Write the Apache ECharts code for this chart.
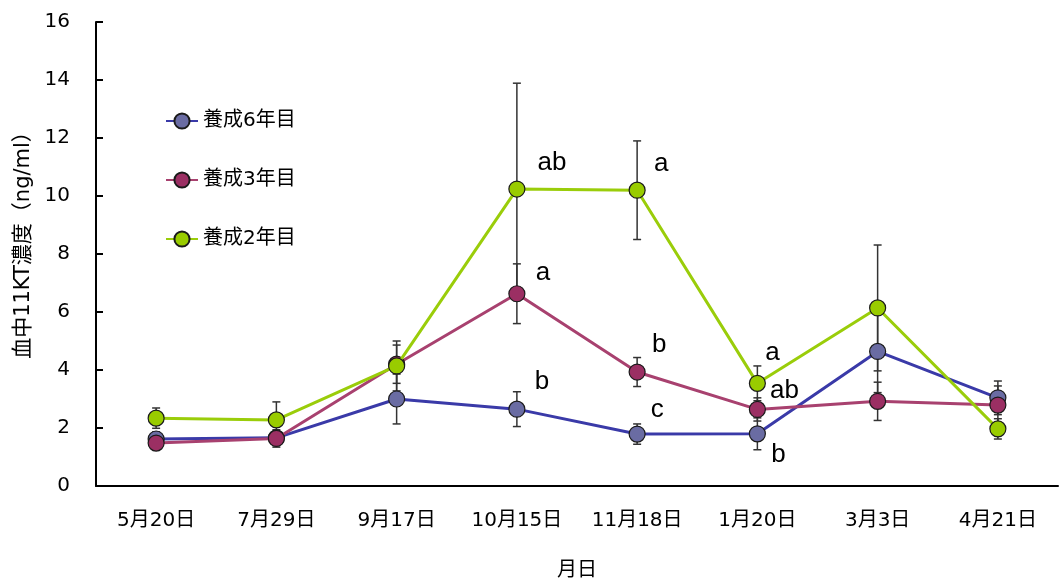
<!DOCTYPE html>
<html>
<head>
<meta charset="utf-8">
<script src="https://cdn.jsdelivr.net/npm/echarts@6/dist/echarts.min.js"></script>
<style>
  html, body { margin: 0; padding: 0; background: #fff; }
  #chart { width: 1061px; height: 584px; }
</style>
</head>
<body>
<div id="chart"></div>
<script>
// Sampling dates
const categories = ['5月20日', '7月29日', '9月17日', '10月15日', '11月18日', '1月20日', '3月3日', '4月21日'];

// Mean blood 11-KT concentration (ng/ml) and error (±) per group
const names = ['養成6年目', '養成3年目', '養成2年目'];
const year6 = [1.62, 1.66, 3.0, 2.65, 1.79, 1.80, 4.64, 3.04];
const year6Err = [0.25, 0.2, 0.86, 0.6, 0.35, 0.55, 1.42, 0.58];
const year3 = [1.48, 1.64, 4.2, 6.63, 3.93, 2.64, 2.92, 2.79];
const year3Err = [0.15, 0.3, 0.66, 1.03, 0.5, 0.4, 0.66, 0.66];
const year2 = [2.34, 2.28, 4.14, 10.24, 10.2, 3.54, 6.14, 1.97];
const year2Err = [0.35, 0.62, 0.86, 3.65, 1.7, 0.6, 2.17, 0.35];

// Significance letters per date
const year6Sig = ['', '', '', 'b', 'c', 'b', '', ''];
const year3Sig = ['', '', '', 'a', 'b', 'ab', '', ''];
const year2Sig = ['', '', '', 'ab', 'a', 'a', '', ''];

const yTicks = [0, 2, 4, 6, 8, 10, 12, 14, 16];

// Letter placement relative to each point (pixels)
const sigOffsets = [
  [null, null, null, [25, -27], [20, -24], [21, 21], null, null],
  [null, null, null, [26, -21], [22, -27], [27, -19], null, null],
  [null, null, null, [35, -26], [24, -26], [15, -31], null, null]
];

const lineColors = ['#3a3aa8', '#a8416f', '#9acd0a'];
const markerColors = ['#6a6ca3', '#9b2f63', '#99cc00'];

const values = [year6, year3, year2];
const errors = [year6Err, year3Err, year2Err];
const letters = [year6Sig, year3Sig, year2Sig];

const jp = '"DejaVu Sans", "Noto Sans CJK JP", sans-serif';

const series = [];
values.forEach((vals, s) => {
  // error bars, drawn beneath the markers
  series.push({
    type: 'custom',
    z: 1,
    silent: true,
    data: vals.map((v, i) => [i, v - errors[s][i], v + errors[s][i]]),
    encode: { x: 0, y: [1, 2] },
    renderItem: function (params, api) {
      const lo = api.coord([api.value(0), api.value(1)]);
      const hi = api.coord([api.value(0), api.value(2)]);
      const x = lo[0], w = 4;
      const st = { stroke: '#333', lineWidth: 1.5 };
      return {
        type: 'group',
        children: [
          { type: 'line', shape: { x1: x, y1: lo[1], x2: x, y2: hi[1] }, style: st },
          { type: 'line', shape: { x1: x - w, y1: lo[1], x2: x + w, y2: lo[1] }, style: st },
          { type: 'line', shape: { x1: x - w, y1: hi[1], x2: x + w, y2: hi[1] }, style: st }
        ]
      };
    }
  });
});
values.forEach((vals, s) => {
  series.push({
    name: names[s],
    type: 'line',
    z: 3 + s,
    symbol: 'circle',
    symbolSize: 16,
    lineStyle: { color: lineColors[s], width: 3 },
    itemStyle: { color: markerColors[s], borderColor: '#1a1a1a', borderWidth: 1.2 },
    emphasis: { disabled: true },
    data: vals.map((v, i) => ({
      value: v,
      label: letters[s][i] ? {
        show: true,
        formatter: letters[s][i],
        position: 'inside',
        offset: sigOffsets[s][i],
        fontFamily: '"Liberation Sans", Arial, sans-serif',
        fontSize: 26,
        color: '#000'
      } : { show: false }
    }))
  });
});

const chart = echarts.init(document.getElementById('chart'), null, { renderer: 'canvas' });
chart.setOption({
  animation: false,
  backgroundColor: '#fff',
  grid: { left: 96, right: 3, top: 22, bottom: 98, containLabel: false, outerBoundsMode: 'none' },
  legend: {
    data: names,
    orient: 'vertical',
    left: 160,
    top: 106,
    itemGap: 39,
    itemWidth: 32,
    itemHeight: 19,
    textStyle: { fontFamily: jp, fontSize: 20, color: '#000' }
  },
  xAxis: {
    type: 'category',
    data: categories,
    boundaryGap: true,
    name: '月日',
    nameLocation: 'middle',
    nameGap: 75,
    nameTextStyle: { fontFamily: jp, fontSize: 20, color: '#000' },
    axisLine: { lineStyle: { color: '#000', width: 2 } },
    axisTick: { inside: true, length: 7, lineStyle: { color: '#000', width: 2 } },
    axisLabel: { fontFamily: jp, fontSize: 20, color: '#000', margin: 25 },
    splitLine: { show: false }
  },
  yAxis: {
    type: 'value',
    min: yTicks[0],
    max: yTicks[yTicks.length - 1],
    interval: yTicks[1] - yTicks[0],
    name: '血中11KT濃度（ng/ml）',
    nameLocation: 'middle',
    nameGap: 62,
    nameTextStyle: { fontFamily: jp, fontSize: 21, color: '#000', padding: [0, 0, 0, 28] },
    axisLine: { show: true, lineStyle: { color: '#000', width: 2 } },
    axisTick: { show: true, inside: true, length: 7, lineStyle: { color: '#000', width: 2 } },
    axisLabel: { fontFamily: jp, fontSize: 20, color: '#000', margin: 26 },
    splitLine: { show: false }
  },
  series: series
});
</script>
</body>
</html>
